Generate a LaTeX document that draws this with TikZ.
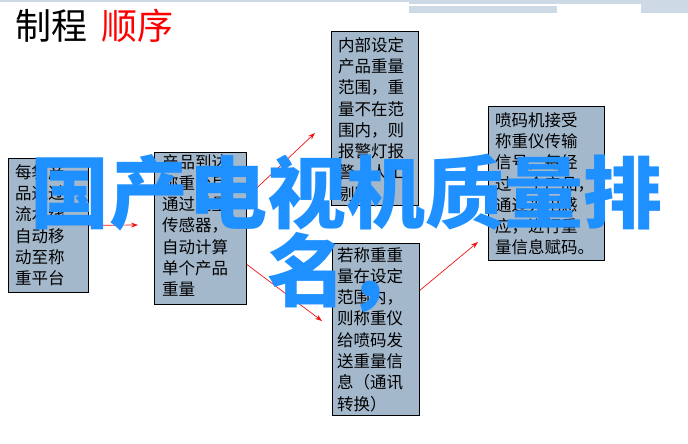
\documentclass[tikz,border=0pt]{standalone}
\usepackage{fontspec}
\newfontfamily\cjk{Noto Sans CJK SC}
\usetikzlibrary{arrows.meta}
\definecolor{boxfill}{RGB}{164,184,204}
\definecolor{band}{RGB}{205,217,228}
\definecolor{bandlight}{RGB}{222,230,238}
\definecolor{wmblue}{RGB}{30,144,255}
\definecolor{arrred}{RGB}{240,20,20}
\tikzset{
  box/.style={draw=black, line width=0.8pt, fill=boxfill, inner sep=0pt, anchor=north west},
  boxtxt/.style={anchor=north west, inner sep=0pt, align=left, text width=110pt,
    font=\cjk\fontsize{16.5}{21.3}\selectfont},
  arr/.style={draw=arrred, line width=0.7pt, -{Stealth[length=7pt,width=5pt]}},
  wm/.style={inner sep=0pt, text=wmblue, font=\cjk\bfseries\fontsize{79}{87}\selectfont},
}
\begin{document}
\begin{tikzpicture}[x=1pt,y=-1pt]
\useasboundingbox[fill=white] (0,0) rectangle (688,444);
% top bands
\fill[band] (0,0) rectangle (688,2);
\fill[band] (409,0) rectangle (688,4.3);
\fill[band] (409,6) rectangle (557,13);
\fill[band] (641,4) rectangle (688,13);
\fill[white] (409,4.3) rectangle (641,6);
% title
\node[anchor=base west, inner sep=0pt, font=\cjk\fontsize{36}{40}\selectfont] (title) at (15,40)
  {制程\hspace{14pt}\textcolor{red}{顺序}};
% boxes
\node[box, minimum width=80pt, minimum height=134pt] (b1) at (8,158) {};
\node[boxtxt] (t1) at ([xshift=7pt,yshift=-6pt]b1.north west)
  {每袋产\\品通过\\流水线\\自动移\\动至称\\重平台};
\node[box, minimum width=92pt, minimum height=152pt] (b2) at (154,152) {};
\node[boxtxt] (t2) at ([xshift=8pt,yshift=-2pt]b2.north west)
  {产品到达\\称重台后\\通过重量\\传感器，\\自动计算\\单个产品\\重量};
\node[box, minimum width=87pt, minimum height=174pt] (b3) at (331,31) {};
\node[boxtxt] (t3) at ([xshift=7pt,yshift=-6pt]b3.north west)
  {内部设定\\产品重量\\范围，重\\量不在范\\围内，则\\报警灯报\\警，人工\\剔除。};
\node[box, minimum width=87pt, minimum height=172pt] (b4) at (332,243) {};
\node[boxtxt] (t4) at ([xshift=5pt,yshift=-4pt]b4.north west)
  {若称重重\\量在设定\\范围内，\\则称重仪\\给喷码发\\送重量信\\息（通讯\\转换）};
\node[box, minimum width=116pt, minimum height=154pt] (b5) at (488,106) {};
\node[boxtxt] (t5) at ([xshift=7pt,yshift=-6pt]b5.north west)
  {喷码机接受\\称重仪传输\\信号，每经\\过一个产品，\\通过光电感\\应，进行重\\量信息赋码。};
% connectors
\coordinate (a1e) at (138,225);
\coordinate (a2e) at (315,133);
\coordinate (a3e) at (322,321);
\coordinate (a4e) at (478,242);
\draw[arr] (b1.east) -- (a1e);
\draw[arr] ([yshift=31pt]b2.east) -- (a2e);
\draw[arr] ([yshift=-36pt]b2.east) -- (a3e);
\draw[arr] ([yshift=39pt]b4.east) -- (a4e);
% overlay text
\node[wm, anchor=base] (wm1) at (346,222) {国产电视机质量排};
\node[wm, anchor=base] (wm2) at (346,300) {名，};
\end{tikzpicture}
\end{document}
